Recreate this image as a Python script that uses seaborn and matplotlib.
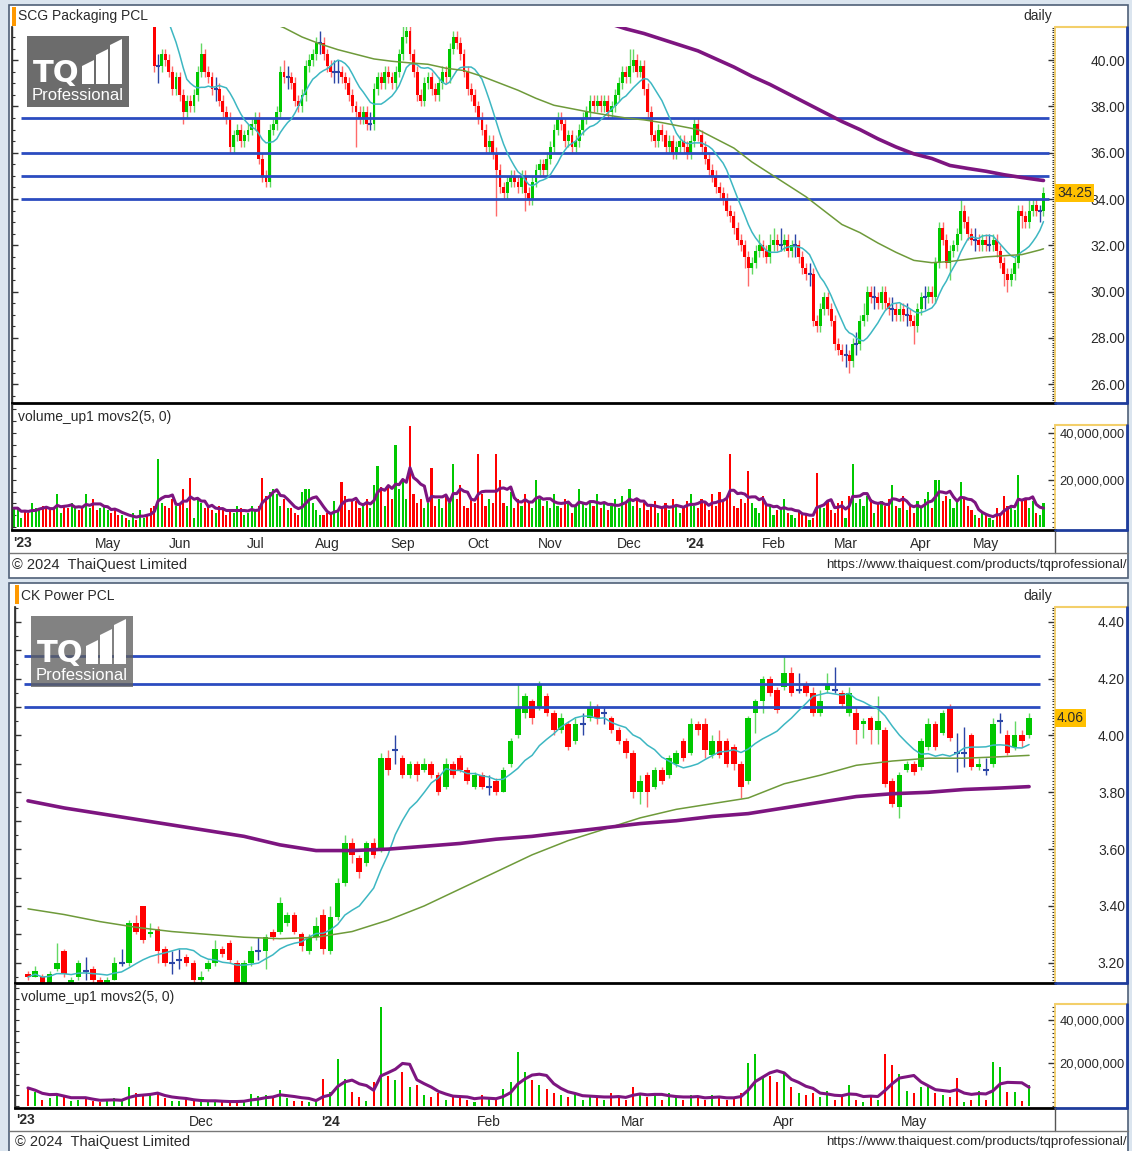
import numpy as np
import pandas as pd
import seaborn as sns
import matplotlib
matplotlib.use("Agg")
import matplotlib.pyplot as plt
import matplotlib.transforms as mtransforms
from matplotlib.patches import Rectangle, Polygon
from matplotlib.lines import Line2D
from matplotlib.ticker import MultipleLocator, FuncFormatter, NullFormatter

W, H = 1132, 1151

# ---------------- SCG Packaging PCL (daily) ----------------
scg_month_names = ["'23", "May", "Jun", "Jul", "Aug", "Sep", "Oct", "Nov", "Dec",
                   "'24", "Feb", "Mar", "Apr", "May"]
scg_month_days = [26, 20, 21, 20, 21, 21, 20, 22, 18, 22, 20, 21, 18, 17]
scg_first_open = 43.5
scg_close = [
    # Apr
    44.0, 44.25, 44.5, 44.0, 43.75, 44.0, 44.5, 44.75, 44.5, 44.25, 44.0, 43.5, 43.75,
    44.0, 43.5, 43.25, 43.5, 43.75, 43.5, 43.0, 43.25, 43.5, 43.0, 42.75, 43.0, 43.25,
    # May
    43.5, 43.25, 43.0, 42.75, 43.0, 42.75, 43.0, 43.25, 43.0, 43.5, 43.75, 43.5, 43.25,
    39.75, 39.75, 40.25, 40.0, 39.5, 38.75, 39.25,
    # Jun
    38.5, 37.75, 38.25, 38.0, 38.5, 39.5, 40.25, 39.5, 39.25, 38.75, 38.75, 38.25, 37.75,
    37.5, 36.25, 36.75, 37.0, 36.5, 36.75, 37.0, 37.25,
    # Jul
    37.5, 35.75, 35.0, 34.75, 37.0, 37.25, 37.75, 39.5, 39.25, 39.25, 39.0, 38.25, 38.0,
    38.5, 39.75, 40.0, 40.25, 40.75, 40.75, 40.25,
    # Aug
    39.75, 39.5, 39.5, 39.5, 39.25, 39.0, 38.5, 38.0, 37.75, 37.5, 37.75, 37.25, 37.25,
    38.75, 39.25, 39.0, 39.5, 39.25, 39.0, 39.5, 40.25,
    # Sep
    41.0, 41.25, 40.25, 39.5, 38.5, 38.25, 39.0, 39.25, 38.75, 38.5, 39.0, 39.5, 39.25,
    40.5, 41.0, 40.75, 40.25, 39.5, 38.75, 38.5, 38.0,
    # Oct
    37.5, 37.0, 36.25, 36.5, 36.0, 35.25, 34.5, 34.25, 34.75, 35.0, 34.75, 34.5, 35.0,
    34.25, 34.0, 34.75, 35.25, 35.5, 35.25, 35.75,
    # Nov
    36.25, 37.0, 37.5, 37.25, 36.5, 36.75, 36.25, 36.5, 37.0, 37.5, 37.75, 38.25, 38.0,
    38.25, 38.0, 38.25, 37.75, 38.0, 38.5, 39.0, 39.5, 39.25,
    # Dec
    39.75, 40.0, 39.5, 39.75, 38.75, 37.75, 36.75, 36.5, 37.0, 36.75, 36.25, 36.5, 36.0,
    36.25, 36.5, 36.25, 36.0, 36.5,
    # Jan
    37.25, 36.75, 36.25, 35.75, 35.25, 35.0, 34.5, 34.25, 34.0, 33.5, 33.25, 32.75, 32.25,
    32.0, 31.5, 31.0, 31.25, 31.75, 32.0, 31.75, 31.5, 32.0,
    # Feb
    32.25, 32.0, 32.0, 32.25, 31.75, 32.0, 32.0, 31.5, 31.0, 30.75, 30.75, 28.75, 28.5,
    29.25, 29.75, 29.25, 28.75, 27.75, 27.5, 27.25,
    # Mar
    27.25, 27.0, 27.75, 27.75, 28.75, 29.0, 30.0, 29.75, 29.75, 29.5, 30.0, 29.5, 29.25,
    29.25, 29.0, 29.25, 29.0, 29.0, 28.75, 28.5, 29.25,
    # Apr
    29.75, 29.75, 30.0, 29.75, 31.25, 32.75, 32.25, 31.25, 31.75, 32.0, 32.5, 33.5, 33.0,
    32.5, 32.25, 32.25, 32.0, 32.25,
    # May
    32.0, 32.0, 32.25, 31.75, 31.25, 30.75, 30.5, 30.75, 31.25, 33.5, 33.25, 33.0, 33.5,
    33.75, 33.5, 33.5, 34.25,
]
scg_high = [
    44.25, 44.5, 44.75, 44.75, 44.25, 44.25, 44.75, 45.0, 45.0, 44.75, 44.5, 44.25, 44.0,
    44.25, 44.25, 43.75, 43.75, 44.0, 44.0, 43.75, 43.5, 43.75, 43.75, 43.25, 43.25, 43.5,
    43.75, 43.75, 43.5, 43.25, 43.25, 43.25, 43.25, 43.5, 43.5, 43.75, 44.0, 44.0, 43.75,
    43.5, 40.25, 40.5, 40.5, 40.25, 39.75, 39.5,
    39.5, 38.75, 38.5, 38.5, 38.75, 39.75, 40.75, 40.5, 39.75, 39.5, 39.25, 39.0, 38.5,
    38.0, 37.75, 37.0, 37.25, 37.25, 37.0, 37.25, 37.5,
    37.75, 37.75, 36.0, 35.25, 37.25, 37.5, 38.0, 39.75, 40.0, 39.75, 39.5, 39.25, 38.5,
    38.75, 40.0, 40.25, 40.5, 41.0, 41.25, 41.0,
    40.5, 40.0, 40.0, 40.0, 39.75, 39.5, 39.25, 38.75, 38.25, 38.0, 38.0, 38.0, 37.75,
    39.0, 39.5, 39.5, 39.75, 39.75, 39.5, 39.75, 40.5,
    41.5, 41.5, 41.5, 40.5, 39.75, 38.75, 39.25, 39.5, 39.5, 39.0, 39.25, 39.75, 39.75,
    40.75, 41.25, 41.25, 41.0, 40.5, 39.75, 39.0, 38.75,
    38.25, 37.75, 37.25, 36.75, 36.75, 36.25, 35.5, 34.75, 35.0, 35.25, 35.25, 35.0, 35.25,
    35.25, 34.5, 35.0, 35.5, 35.75, 35.75, 36.0,
    36.5, 37.25, 37.75, 37.75, 37.5, 37.0, 37.0, 36.75, 37.25, 37.75, 38.0, 38.5, 38.5,
    38.5, 38.5, 38.5, 38.5, 38.25, 38.75, 39.25, 39.75, 39.75,
    40.5, 40.5, 40.25, 40.0, 40.0, 39.0, 38.0, 37.0, 37.25, 37.25, 37.0, 36.75, 36.75,
    36.5, 36.75, 36.75, 36.5, 36.75,
    37.5, 37.5, 37.0, 36.5, 36.0, 35.5, 35.25, 34.75, 34.5, 34.25, 33.75, 33.5, 33.0,
    32.5, 32.25, 31.75, 31.5, 32.0, 32.5, 32.25, 32.0, 32.5,
    32.75, 32.5, 32.75, 32.5, 32.5, 32.25, 32.5, 32.25, 31.75, 31.25, 31.25, 31.0, 29.0,
    29.5, 30.0, 30.0, 29.5, 29.0, 28.0, 27.75,
    27.75, 27.5, 28.0, 28.25, 29.0, 29.5, 30.25, 30.25, 30.25, 30.0, 30.25, 30.25, 29.75,
    29.75, 29.5, 29.5, 29.5, 29.5, 29.25, 29.0, 29.5,
    30.0, 30.25, 30.25, 30.25, 31.5, 33.0, 33.0, 32.5, 32.0, 32.25, 32.75, 34.0, 33.75,
    33.25, 32.75, 32.75, 32.5, 32.5,
    32.5, 32.5, 32.5, 32.5, 32.0, 31.5, 31.0, 31.0, 31.5, 33.75, 33.75, 33.5, 34.0,
    34.0, 34.0, 33.75, 34.5,
]
scg_low = [
    43.25, 43.75, 44.0, 43.75, 43.5, 43.5, 43.75, 44.25, 44.25, 44.0, 43.75, 43.25, 43.25,
    43.5, 43.25, 43.0, 43.0, 43.25, 43.25, 42.75, 42.75, 43.0, 42.75, 42.5, 42.5, 42.75,
    43.0, 43.0, 42.75, 42.5, 42.5, 42.5, 42.5, 42.75, 42.75, 42.75, 43.25, 43.25, 42.75,
    39.5, 39.0, 39.5, 39.75, 39.25, 38.5, 38.5,
    38.25, 37.25, 37.5, 37.75, 37.75, 38.25, 39.25, 39.25, 39.0, 38.5, 38.25, 38.0, 37.5,
    37.25, 36.0, 36.0, 36.5, 36.25, 36.25, 36.5, 36.75,
    37.0, 35.5, 34.75, 34.5, 34.5, 36.75, 37.0, 37.5, 39.0, 38.75, 38.75, 38.0, 37.75,
    37.75, 38.25, 39.5, 39.75, 40.0, 40.25, 40.0,
    39.5, 39.25, 39.0, 39.0, 39.0, 38.75, 38.25, 37.75, 36.25, 37.25, 37.25, 37.0, 37.0,
    37.0, 38.5, 38.75, 38.75, 39.0, 38.75, 38.75, 39.25,
    40.0, 40.75, 40.0, 39.25, 38.25, 38.0, 38.0, 38.75, 38.5, 38.25, 38.25, 38.75, 39.0,
    39.0, 40.25, 40.5, 40.0, 39.25, 38.5, 38.25, 37.75,
    37.25, 36.75, 36.0, 36.0, 35.75, 33.25, 34.25, 34.0, 34.0, 34.5, 34.5, 34.25, 34.25,
    33.5, 33.75, 33.75, 34.5, 35.0, 35.0, 35.0,
    35.5, 36.0, 36.75, 37.0, 36.25, 36.25, 36.0, 36.0, 36.25, 36.75, 37.25, 37.5, 37.75,
    37.75, 37.75, 37.75, 37.5, 37.5, 37.75, 38.25, 38.75, 39.0,
    39.0, 39.5, 39.25, 39.25, 38.5, 37.5, 36.5, 36.25, 36.25, 36.5, 36.0, 36.0, 35.75,
    35.75, 36.0, 36.0, 35.75, 35.75,
    36.25, 36.5, 36.0, 35.5, 35.0, 34.75, 34.25, 34.0, 33.75, 33.25, 33.0, 32.5, 32.0,
    31.75, 31.0, 30.25, 30.75, 31.0, 31.5, 31.5, 31.25, 31.25,
    31.75, 31.75, 31.75, 31.75, 31.5, 31.5, 31.5, 31.25, 30.75, 30.5, 30.25, 28.5, 28.25,
    28.25, 29.0, 29.0, 28.5, 27.5, 27.25, 27.0,
    26.75, 26.5, 26.75, 27.25, 27.5, 28.5, 28.75, 29.5, 29.25, 29.25, 29.25, 29.25, 29.0,
    28.75, 28.75, 28.75, 28.75, 28.5, 28.5, 27.75, 28.25,
    29.0, 29.25, 29.5, 29.5, 29.5, 31.0, 32.0, 31.0, 30.5, 31.5, 31.75, 32.25, 32.75,
    32.25, 32.0, 31.75, 31.75, 31.75,
    31.75, 31.75, 31.75, 31.5, 31.0, 30.25, 30.0, 30.25, 30.5, 31.0, 32.75, 32.75, 32.75,
    33.25, 33.25, 33.0, 33.25,
]
# volume in millions of shares
scg_volume = [
    8, 8, 4, 7, 6, 10, 8, 7, 9, 8, 7, 8, 14, 6, 9, 8, 10, 9, 7, 8,
    14, 8, 12, 7, 8, 9, 7, 6, 8, 5, 5, 4, 3, 6, 3, 7, 4, 5, 8, 9,
    29, 10, 9, 8, 12, 9, 10, 16, 8, 21, 4, 12, 10, 8, 9, 7, 6, 9, 8, 5,
    7, 6, 9, 8, 5, 6, 9, 7, 9, 21, 13, 15, 16, 14, 9, 12, 8, 8, 6, 5,
    15, 16, 16, 10, 7, 5, 5, 6, 5, 11, 7, 19, 13, 7, 11, 11, 8, 10, 12, 8,
    18, 26, 17, 9, 18, 12, 35, 16, 20, 12, 43, 14, 10, 12, 8, 10, 25, 9, 12, 8,
    14, 10, 27, 12, 18, 9, 8, 12, 10, 31, 14, 9, 12, 10, 31, 20, 10, 9, 15, 8,
    12, 9, 14, 10, 8, 20, 12, 9, 11, 8, 14, 9, 8, 12, 10, 6, 9, 16, 10, 8,
    11, 9, 14, 8, 10, 7, 9, 12, 8, 13, 10, 16, 9, 12, 8, 10, 7, 9, 11, 6,
    8, 10, 7, 12, 9, 6, 8, 11, 14, 9, 8, 12, 10, 7, 14, 9, 15, 11, 12, 31,
    9, 8, 12, 10, 24, 10, 8, 6, 13, 10, 9, 5, 7, 8, 12, 6, 5, 4, 7, 6,
    5, 3, 4, 23, 9, 8, 11, 7, 6, 10, 11, 4, 13, 27, 10, 12, 9, 13, 12, 6,
    10, 11, 9, 12, 18, 9, 8, 13, 7, 9, 6, 11, 9, 12, 15, 8, 20, 20, 11, 13,
    12, 8, 11, 19, 12, 9, 7, 5, 4, 6, 5, 4, 3, 8, 6, 13, 9, 8, 7, 22,
    11, 12, 8, 11, 6, 5, 10,
]
scg_ma_mid_days = list(range(70, 286, 5)) + [286]
scg_ma_mid = [41.7, 41.4, 41.0, 40.7, 40.45, 40.25, 40.05, 39.95, 39.88, 39.82,
              39.65, 39.55, 39.3, 39.0, 38.7, 38.35, 38.05, 37.9, 37.75, 37.62,
              37.5, 37.42, 37.3, 37.15, 37.0, 36.6, 36.2, 35.6, 35.1, 34.6,
              34.1, 33.5, 32.9, 32.55, 32.1, 31.7, 31.35, 31.25, 31.3, 31.4,
              31.5, 31.55, 31.6, 31.8, 31.85]
scg_ma_long_days = list(range(165, 286, 5)) + [286]
scg_ma_long = [41.6, 41.35, 41.15, 40.9, 40.65, 40.4, 40.05, 39.7, 39.3, 38.95,
               38.55, 38.15, 37.75, 37.35, 37.0, 36.6, 36.25, 35.95, 35.75, 35.45,
               35.32, 35.2, 35.05, 34.93, 34.82, 34.8]
scg_levels = [37.5, 36.0, 35.0, 34.0]

# ---------------- CK Power PCL (daily) ----------------
ckp_month_names = ["'23", "Dec", "'24", "Feb", "Mar", "Apr", "May"]
ckp_month_days = [24, 18, 22, 20, 21, 18, 17]
ckp_open = [
    3.16, 3.15, 3.15, 3.13, 3.18, 3.24, 3.13, 3.15, 3.17, 3.18,
    3.14, 3.12, 3.14, 3.20, 3.20, 3.34, 3.40, 3.30, 3.32, 3.25,
    3.20, 3.21, 3.22, 3.20, 3.14, 3.18, 3.20, 3.25, 3.27, 3.20,
    3.13, 3.20, 3.24, 3.24, 3.31, 3.31, 3.34, 3.37, 3.30, 3.24,
    3.29, 3.37, 3.24, 3.36, 3.48, 3.62, 3.57, 3.55, 3.62, 3.60,
    3.92, 3.95, 3.92, 3.86, 3.90, 3.88, 3.90, 3.86, 3.82, 3.90,
    3.92, 3.88, 3.82, 3.86, 3.82, 3.84, 3.80, 3.90, 4.00, 4.08,
    4.12, 4.10, 4.14, 4.08, 4.02, 4.04, 3.98, 4.04, 4.06, 4.10,
    4.08, 4.06, 4.02, 3.98, 3.94, 3.80, 3.86, 3.82, 3.88, 3.86,
    3.90, 3.98, 3.94, 4.04, 4.04, 3.93, 3.98, 3.98, 3.96, 3.90,
    3.84, 4.08, 4.12, 4.20, 4.16, 4.17, 4.22, 4.16, 4.18, 4.15,
    4.08, 4.16, 4.16, 4.15, 4.08, 4.08, 4.04, 4.06, 4.02, 4.02,
    3.84, 3.75, 3.88, 3.90, 3.89, 3.96, 4.04, 4.01, 4.10, 3.94,
    3.94, 4.00, 3.89, 3.88, 3.90, 4.05, 4.00, 3.96, 4.00, 4.00,
]
ckp_close = [
    3.15, 3.17, 3.13, 3.16, 3.20, 3.16, 3.14, 3.20, 3.17, 3.14,
    3.13, 3.14, 3.20, 3.20, 3.34, 3.31, 3.28, 3.31, 3.24, 3.20,
    3.20, 3.21, 3.20, 3.14, 3.15, 3.20, 3.25, 3.23, 3.21, 3.13,
    3.20, 3.24, 3.24, 3.29, 3.29, 3.41, 3.37, 3.31, 3.26, 3.29,
    3.33, 3.25, 3.36, 3.48, 3.62, 3.58, 3.52, 3.62, 3.58, 3.92,
    3.88, 3.95, 3.86, 3.90, 3.86, 3.90, 3.86, 3.80, 3.90, 3.86,
    3.88, 3.84, 3.86, 3.82, 3.82, 3.80, 3.88, 3.98, 4.10, 4.14,
    4.06, 4.18, 4.08, 4.02, 4.06, 3.96, 4.04, 4.04, 4.10, 4.06,
    4.08, 4.02, 3.98, 3.94, 3.80, 3.84, 3.80, 3.88, 3.84, 3.92,
    3.94, 3.92, 4.04, 4.02, 3.95, 3.98, 3.93, 3.90, 3.90, 3.82,
    4.06, 4.12, 4.20, 4.15, 4.09, 4.22, 4.15, 4.16, 4.15, 4.08,
    4.12, 4.18, 4.16, 4.11, 4.15, 4.02, 4.05, 4.02, 4.05, 3.83,
    3.76, 3.86, 3.90, 3.87, 3.98, 4.04, 3.96, 4.08, 3.99, 3.94,
    3.94, 3.89, 3.90, 3.88, 4.04, 4.05, 3.94, 4.00, 3.98, 4.06,
]
ckp_high = [
    3.17, 3.19, 3.16, 3.17, 3.27, 3.25, 3.15, 3.21, 3.22, 3.19,
    3.15, 3.15, 3.22, 3.25, 3.35, 3.37, 3.40, 3.34, 3.33, 3.26,
    3.24, 3.25, 3.23, 3.21, 3.17, 3.21, 3.28, 3.26, 3.28, 3.21,
    3.21, 3.26, 3.29, 3.30, 3.32, 3.43, 3.38, 3.38, 3.31, 3.30,
    3.36, 3.39, 3.40, 3.50, 3.65, 3.64, 3.58, 3.63, 3.64, 3.94,
    3.95, 4.00, 3.93, 3.91, 3.91, 3.92, 3.91, 3.87, 3.92, 3.91,
    3.93, 3.89, 3.87, 3.87, 3.86, 3.85, 3.89, 3.99, 4.18, 4.15,
    4.13, 4.19, 4.15, 4.09, 4.08, 4.05, 4.06, 4.08, 4.12, 4.11,
    4.10, 4.07, 4.03, 3.99, 3.95, 3.86, 3.87, 3.89, 3.89, 3.93,
    3.95, 3.99, 4.06, 4.05, 4.06, 4.00, 4.02, 3.99, 3.97, 3.91,
    4.07, 4.13, 4.21, 4.21, 4.17, 4.28, 4.24, 4.22, 4.19, 4.17,
    4.16, 4.22, 4.24, 4.16, 4.17, 4.10, 4.06, 4.07, 4.14, 4.03,
    3.85, 3.87, 3.91, 3.91, 3.99, 4.06, 4.05, 4.09, 4.11, 4.01,
    4.03, 4.01, 3.92, 3.92, 4.06, 4.08, 4.02, 4.05, 4.02, 4.08,
]
ckp_low = [
    3.14, 3.15, 3.12, 3.13, 3.17, 3.15, 3.12, 3.14, 3.14, 3.13,
    3.12, 3.12, 3.14, 3.19, 3.19, 3.30, 3.27, 3.29, 3.20, 3.19,
    3.16, 3.18, 3.19, 3.13, 3.13, 3.17, 3.19, 3.22, 3.20, 3.12,
    3.12, 3.19, 3.21, 3.18, 3.28, 3.30, 3.33, 3.30, 3.24, 3.23,
    3.28, 3.23, 3.23, 3.35, 3.47, 3.55, 3.50, 3.54, 3.57, 3.59,
    3.86, 3.90, 3.85, 3.85, 3.84, 3.87, 3.85, 3.79, 3.81, 3.85,
    3.87, 3.83, 3.81, 3.81, 3.79, 3.79, 3.80, 3.89, 3.99, 4.06,
    4.04, 4.09, 4.07, 4.00, 4.01, 3.95, 3.97, 4.00, 4.05, 4.04,
    4.04, 4.01, 3.97, 3.92, 3.78, 3.76, 3.75, 3.81, 3.83, 3.85,
    3.89, 3.91, 3.93, 4.00, 3.92, 3.92, 3.92, 3.89, 3.88, 3.78,
    3.83, 4.01, 4.08, 4.14, 4.08, 4.16, 4.14, 4.15, 4.14, 4.07,
    4.07, 4.15, 4.15, 4.10, 4.07, 3.97, 3.99, 3.97, 3.97, 3.82,
    3.75, 3.71, 3.87, 3.86, 3.88, 3.95, 3.95, 4.00, 3.98, 3.87,
    3.89, 3.88, 3.88, 3.86, 3.89, 4.01, 3.93, 3.95, 3.96, 3.99,
]
ckp_volume = [
    8.4, 6.3, 3, 3.5, 5.8, 4.5, 2.5, 3, 3.5, 2.5,
    1.8, 3, 3.5, 2.5, 9, 6, 4.5, 5, 5.5, 3.5,
    2.5, 2.5, 3.5, 2.5, 1.8, 1.8, 2.5, 2.5, 1.8, 1.8,
    2.5, 5.5, 4.5, 5, 3.5, 7.5, 3.5, 2.5, 2.3, 1.8,
    2.5, 12.6, 6.5, 22, 12.6, 6.5, 4, 2.5, 11, 46,
    14, 12, 16, 9, 10, 5, 4, 6, 3, 5,
    4, 3, 2, 5, 4, 3, 8, 11, 25, 16,
    12, 10, 8, 6, 5, 4, 6, 3, 5, 4,
    3, 6, 4, 3, 9, 6, 4, 5, 3, 6,
    4, 3, 5, 4, 3, 5, 4, 3, 4, 6,
    20, 24, 13, 14, 11, 15, 9, 6, 5, 6,
    4, 7, 3, 4, 10, 3, 2, 4, 3, 24,
    19, 15, 7, 6, 9, 10, 6, 5, 4, 13,
    2, 3, 7, 3, 20.5, 18, 6.5, 6.5, 2.5, 10,
]
ckp_ma_days = list(range(0, 140, 5)) + [139]
ckp_ma_mid = [3.39, 3.37, 3.345, 3.325, 3.31, 3.30, 3.29, 3.285, 3.29, 3.31,
              3.35, 3.40, 3.46, 3.52, 3.58, 3.63, 3.67, 3.71, 3.74, 3.76,
              3.78, 3.83, 3.86, 3.895, 3.91, 3.92, 3.92, 3.925, 3.93]
ckp_ma_long = [3.77, 3.745, 3.725, 3.705, 3.685, 3.665, 3.645, 3.615, 3.595, 3.595,
               3.60, 3.61, 3.62, 3.635, 3.645, 3.66, 3.675, 3.69, 3.70, 3.715,
               3.725, 3.745, 3.765, 3.785, 3.795, 3.80, 3.81, 3.815, 3.82]
ckp_levels = [4.28, 4.18, 4.10]

assert len(scg_close) == sum(scg_month_days) == len(scg_volume) == len(scg_high) == len(scg_low)
assert len(ckp_close) == len(ckp_open) == sum(ckp_month_days) == len(ckp_volume) == len(ckp_high) == len(ckp_low)
assert len(scg_ma_mid) == len(scg_ma_mid_days) and len(scg_ma_long) == len(scg_ma_long_days)
assert len(ckp_ma_mid) == len(ckp_ma_days) == len(ckp_ma_long)

GREEN = "#00c800"
RED = "#ff0000"
GREEN_WICK = "#63d863"
RED_WICK = "#ff6a6a"
DOJI = "#2b45a6"
CYAN = "#3db7c2"
OLIVE = "#6e9a3a"
PURPLE = "#7d1580"
LEVEL = "#2b4cc0"
YELLOW = "#f3cf6a"
BOXBLUE = "#1e3c9c"
TXT = "#2a2a2a"

sns.set_theme(style="white")
plt.rcParams["font.family"] = ["Liberation Sans", "DejaVu Sans"]

fig = plt.figure(figsize=(W / 100, H / 100), dpi=100)
fig.patch.set_facecolor("#dbe5ef")


def px_axes(x0, y0, x1, y1):
    return fig.add_axes([x0 / W, 1 - y1 / H, (x1 - x0) / W, (y1 - y0) / H])


def fline(xs, ys, **kw):
    fig.add_artist(Line2D([x / W for x in xs], [1 - y / H for y in ys],
                          transform=fig.transFigure, **kw))


def frect(x0, y0, x1, y1, **kw):
    fig.add_artist(Rectangle((x0 / W, 1 - y1 / H), (x1 - x0) / W, (y1 - y0) / H,
                             transform=fig.transFigure, **kw))


def ftext(x, y, s, **kw):
    kw.setdefault("va", "center")
    kw.setdefault("color", TXT)
    fig.text(x / W, 1 - y / H, s, **kw)


def draw_logo(x0, y0, alpha):
    frect(x0, y0, x0 + 102, y0 + 71, facecolor="#5f5f5f", edgecolor="none", alpha=alpha, zorder=6)
    ftext(x0 + 6, y0 + 37, "TQ", ha="left", fontsize=22, fontweight="bold",
          color="white", family="DejaVu Sans", zorder=7)
    for bx, top in [(55, 27), (69, 16), (83, 6)]:
        pts = [(bx, 48), (bx + 12, 48), (bx + 12, top - 3), (bx, top + 3)]
        fig.add_artist(Polygon([((x0 + a) / W, 1 - (y0 + b) / H) for a, b in pts],
                               closed=True, transform=fig.transFigure,
                               facecolor="white", edgecolor="none", zorder=7))
    ftext(x0 + 51, y0 + 60, "Professional", ha="center", fontsize=12, color="white", zorder=7)


def draw_candles(ax, opens, closes, highs, lows, width, dash_w):
    o = np.asarray(opens, float)
    c = np.asarray(closes, float)
    x = np.arange(len(c))
    up, dn, eq = c > o, c < o, c == o
    wick_cols = np.where(up, GREEN_WICK, np.where(dn, RED_WICK, DOJI))
    ax.vlines(x, lows, highs, colors=wick_cols, lw=1, zorder=1.5)
    ax.bar(x[up], (c - o)[up], bottom=o[up], width=width, color=GREEN, linewidth=0, zorder=2)
    ax.bar(x[dn], (o - c)[dn], bottom=c[dn], width=width, color=RED, linewidth=0, zorder=2)
    ax.plot(x[eq], c[eq], ls="none", marker="_", ms=dash_w, mew=1.5, color=DOJI, zorder=2)


def volume_colors(opens, closes):
    cols, prev = [], opens[0]
    for o, c in zip(opens, closes):
        if c > o:
            cols.append(GREEN)
        elif c < o:
            cols.append(RED)
        else:
            cols.append(GREEN if c >= prev else RED)
        prev = c
    return cols


def right_box(x0, y0, x1, y1):
    fline([x0, x1], [y0, y0], color=YELLOW, lw=1.5, zorder=3)
    fline([x1, x1], [y0, y1], color=BOXBLUE, lw=2, zorder=3)
    fline([x0, x1], [y1, y1], color=BOXBLUE, lw=2, zorder=3)


def draw_block(cfg):
    opens, closes = cfg["open"], cfg["close"]
    n = len(closes)
    x = np.arange(n)
    L, R = cfg["left"], 1055

    # frame, header
    top, bottom = cfg["frame"]
    frect(9, top, 1128, bottom, facecolor="white", edgecolor="#4f6078", lw=1.2, zorder=-5)
    frect(L, top + 2, L + 4, top + 21, facecolor="#ff9900", edgecolor="none", zorder=3)
    ftext(L + 6, cfg["title_y"], cfg["title"], ha="left", fontsize=10)
    ftext(1052, cfg["title_y"], "daily", ha="right", fontsize=10)

    # ---- price panel ----
    py0, py1 = cfg["price_y"]
    ax = px_axes(L, py0, R, py1)
    draw_candles(ax, opens, closes, cfg["high"], cfg["low"], cfg["candle_w"], cfg["dash"])
    ax.hlines(cfg["levels"], cfg["level_from"], n + 0.5, color=LEVEL, lw=2, zorder=4)
    cyan = pd.Series(closes).rolling(10, min_periods=1).mean()
    sns.lineplot(x=x, y=cyan, ax=ax, color=CYAN, lw=1.1, zorder=5, legend=False)
    sns.lineplot(x=cfg["mid_days"], y=cfg["mid"], ax=ax, color=OLIVE, lw=1.1, zorder=5, legend=False)
    sns.lineplot(x=cfg["long_days"], y=cfg["long"], ax=ax, color=PURPLE, lw=2.6, zorder=5, legend=False)
    ax.set_xlim(*cfg["xlim"])
    ax.set_ylim(*cfg["price_lim"])
    ax.set_xlabel("")
    ax.set_ylabel("")
    ax.set_xticks([])
    ax.spines["top"].set_visible(False)
    ax.spines["left"].set_color("#333333")
    ax.spines["left"].set_linewidth(1)
    ax.spines["right"].set_color(YELLOW)
    ax.spines["right"].set_linewidth(1.3)
    ax.spines["bottom"].set_color("black")
    ax.spines["bottom"].set_linewidth(2)
    ax.yaxis.tick_right()
    ax.yaxis.set_major_locator(MultipleLocator(cfg["major"]))
    ax.yaxis.set_minor_locator(MultipleLocator(cfg["minor"]))
    ax.yaxis.set_major_formatter(FuncFormatter(lambda v, p: f"{v:.2f}"))
    ax.tick_params(axis="y", which="major", direction="in", length=5, width=1,
                   color="#333333", pad=50.4, labelsize=10, labelcolor=TXT)
    ax.tick_params(axis="y", which="minor", direction="in", length=2.2, width=0.8, color="#333333")
    plt.setp(ax.get_yticklabels(), ha="right")
    sec = ax.secondary_yaxis("left")
    sec.yaxis.set_major_locator(MultipleLocator(cfg["left_major"]))
    sec.yaxis.set_minor_locator(MultipleLocator(cfg["left_minor"]))
    sec.yaxis.set_major_formatter(NullFormatter())
    sec.tick_params(which="major", direction="in", length=4, width=1, color="#333333")
    sec.tick_params(which="minor", direction="in", length=2.5, width=0.8, color="#333333")
    sec.spines["left"].set_color("#333333")
    right_box(R, py0, 1127, py1)
    last = closes[-1]
    ax.text(1.002, last, f"{last:.2f}", transform=mtransforms.blended_transform_factory(ax.transAxes, ax.transData),
            ha="left", va="center", fontsize=10, color=TXT, clip_on=False, zorder=8,
            bbox=dict(boxstyle="square,pad=0.15", facecolor="#ffc000", edgecolor="none"))
    draw_logo(cfg["logo"][0], cfg["logo"][1], cfg["logo_alpha"])

    # ---- volume panel ----
    vy0, vy1 = cfg["vol_y"]
    axv = px_axes(L, vy0, R, vy1)
    vol = np.asarray(cfg["volume"], float)
    axv.bar(x, vol, width=cfg["vol_w"], color=volume_colors(opens, closes), linewidth=0, zorder=2)
    vol_ma = pd.Series(vol).rolling(5, min_periods=1).mean()
    sns.lineplot(x=x, y=vol_ma, ax=axv, color=PURPLE, lw=2.2, zorder=4, legend=False)
    axv.set_xlim(*cfg["xlim"])
    axv.set_ylim(*cfg["vol_lim"])
    axv.set_xlabel("")
    axv.set_ylabel("")
    axv.spines["top"].set_visible(False)
    axv.spines["left"].set_color("#333333")
    axv.spines["left"].set_linewidth(1)
    axv.spines["right"].set_color(YELLOW)
    axv.spines["right"].set_linewidth(1.3)
    axv.spines["right"].set_bounds(cfg["vol_lim"][0], cfg["vol_box_top"])
    axv.spines["bottom"].set_color("black")
    axv.spines["bottom"].set_linewidth(2)
    axv.yaxis.tick_right()
    axv.set_yticks(np.arange(20, cfg["vol_box_top"], 20))
    axv.set_yticks(np.arange(0, cfg["vol_box_top"], 2), minor=True)
    axv.yaxis.set_major_formatter(FuncFormatter(lambda v, p: f"{v * 1e6:,.0f}"))
    axv.tick_params(axis="y", which="major", direction="in", length=5, width=1,
                    color="#333333", pad=50.4, labelsize=9.3, labelcolor=TXT)
    axv.tick_params(axis="y", which="minor", direction="in", length=2.2, width=0.8, color="#333333")
    plt.setp(axv.get_yticklabels(), ha="right")
    secv = axv.secondary_yaxis("left")
    secv.set_yticks(np.arange(0, cfg["vol_lim"][1], 5))
    secv.yaxis.set_major_formatter(NullFormatter())
    secv.tick_params(direction="in", length=3, width=0.8, color="#333333")
    secv.spines["left"].set_color("#333333")
    right_box(R, cfg["vol_box_top_px"], 1127, vy1)
    ftext(L + 6, vy0 + 12, "volume_up1 movs2(5, 0)", ha="left", fontsize=10)

    # date axis
    starts = np.concatenate([[0], np.cumsum(cfg["month_days"])[:-1]])
    axv.set_xticks(starts)
    labels = [""] + cfg["month_names"][1:]
    axv.set_xticklabels(labels)
    axv.tick_params(axis="x", direction="out", length=3, width=1, color="#333333",
                    pad=2, labelsize=10, labelcolor=TXT)
    for lab in axv.get_xticklabels():
        if lab.get_text().startswith("'"):
            lab.set_fontweight("bold")
    dy0, dy1 = cfg["date_y"]
    ftext(L + 1, (dy0 + dy1) / 2 + 1, cfg["month_names"][0], ha="left", fontsize=10, fontweight="bold")
    fline([R, R], [dy0, dy1], color="#555555", lw=1, zorder=3)
    fline([9, 1128], [dy1, dy1], color="#777777", lw=1, zorder=3)
    ftext(L, cfg["footer_y"], "\u00a9 2024  ThaiQuest Limited", ha="left", fontsize=10.5)
    ftext(1127, cfg["footer_y"], "https://www.thaiquest.com/products/tqprofessional/", ha="right", fontsize=9.6)


draw_block(dict(
    title="SCG Packaging PCL", frame=(5, 578), title_y=16, left=12,
    open=[scg_first_open] + scg_close[:-1], close=scg_close, high=scg_high, low=scg_low,
    volume=scg_volume,
    mid_days=scg_ma_mid_days, mid=scg_ma_mid, long_days=scg_ma_long_days, long=scg_ma_long,
    levels=scg_levels, level_from=2, xlim=(-0.56, 289.2),
    price_y=(27, 403), price_lim=(25.19, 41.43), major=2, minor=0.1,
    left_major=2, left_minor=0.5, candle_w=0.8, dash=3, logo=(27, 36), logo_alpha=0.92,
    vol_y=(405, 530), vol_lim=(-1.3, 51.9), vol_box_top=43.4, vol_box_top_px=425, vol_w=0.6,
    month_names=scg_month_names, month_days=scg_month_days,
    date_y=(531, 553), footer_y=565,
))

draw_block(dict(
    title="CK Power PCL", frame=(583, 1156), title_y=596, left=15,
    open=ckp_open, close=ckp_close, high=ckp_high, low=ckp_low, volume=ckp_volume,
    mid_days=ckp_ma_days, mid=ckp_ma_mid, long_days=ckp_ma_days, long=ckp_ma_long,
    levels=ckp_levels, level_from=-0.5, xlim=(-1.8, 142.6),
    price_y=(607, 983), price_lim=(3.129, 4.452), major=0.2, minor=0.01,
    left_major=0.1, left_minor=0.05, candle_w=0.78, dash=5, logo=(31, 616), logo_alpha=0.78,
    vol_y=(985, 1108), vol_lim=(-0.93, 56.3), vol_box_top=47.4, vol_box_top_px=1004, vol_w=0.28,
    month_names=ckp_month_names, month_days=ckp_month_days,
    date_y=(1108, 1131), footer_y=1142,
))

fig.savefig("out.png", dpi=100, facecolor=fig.get_facecolor())
